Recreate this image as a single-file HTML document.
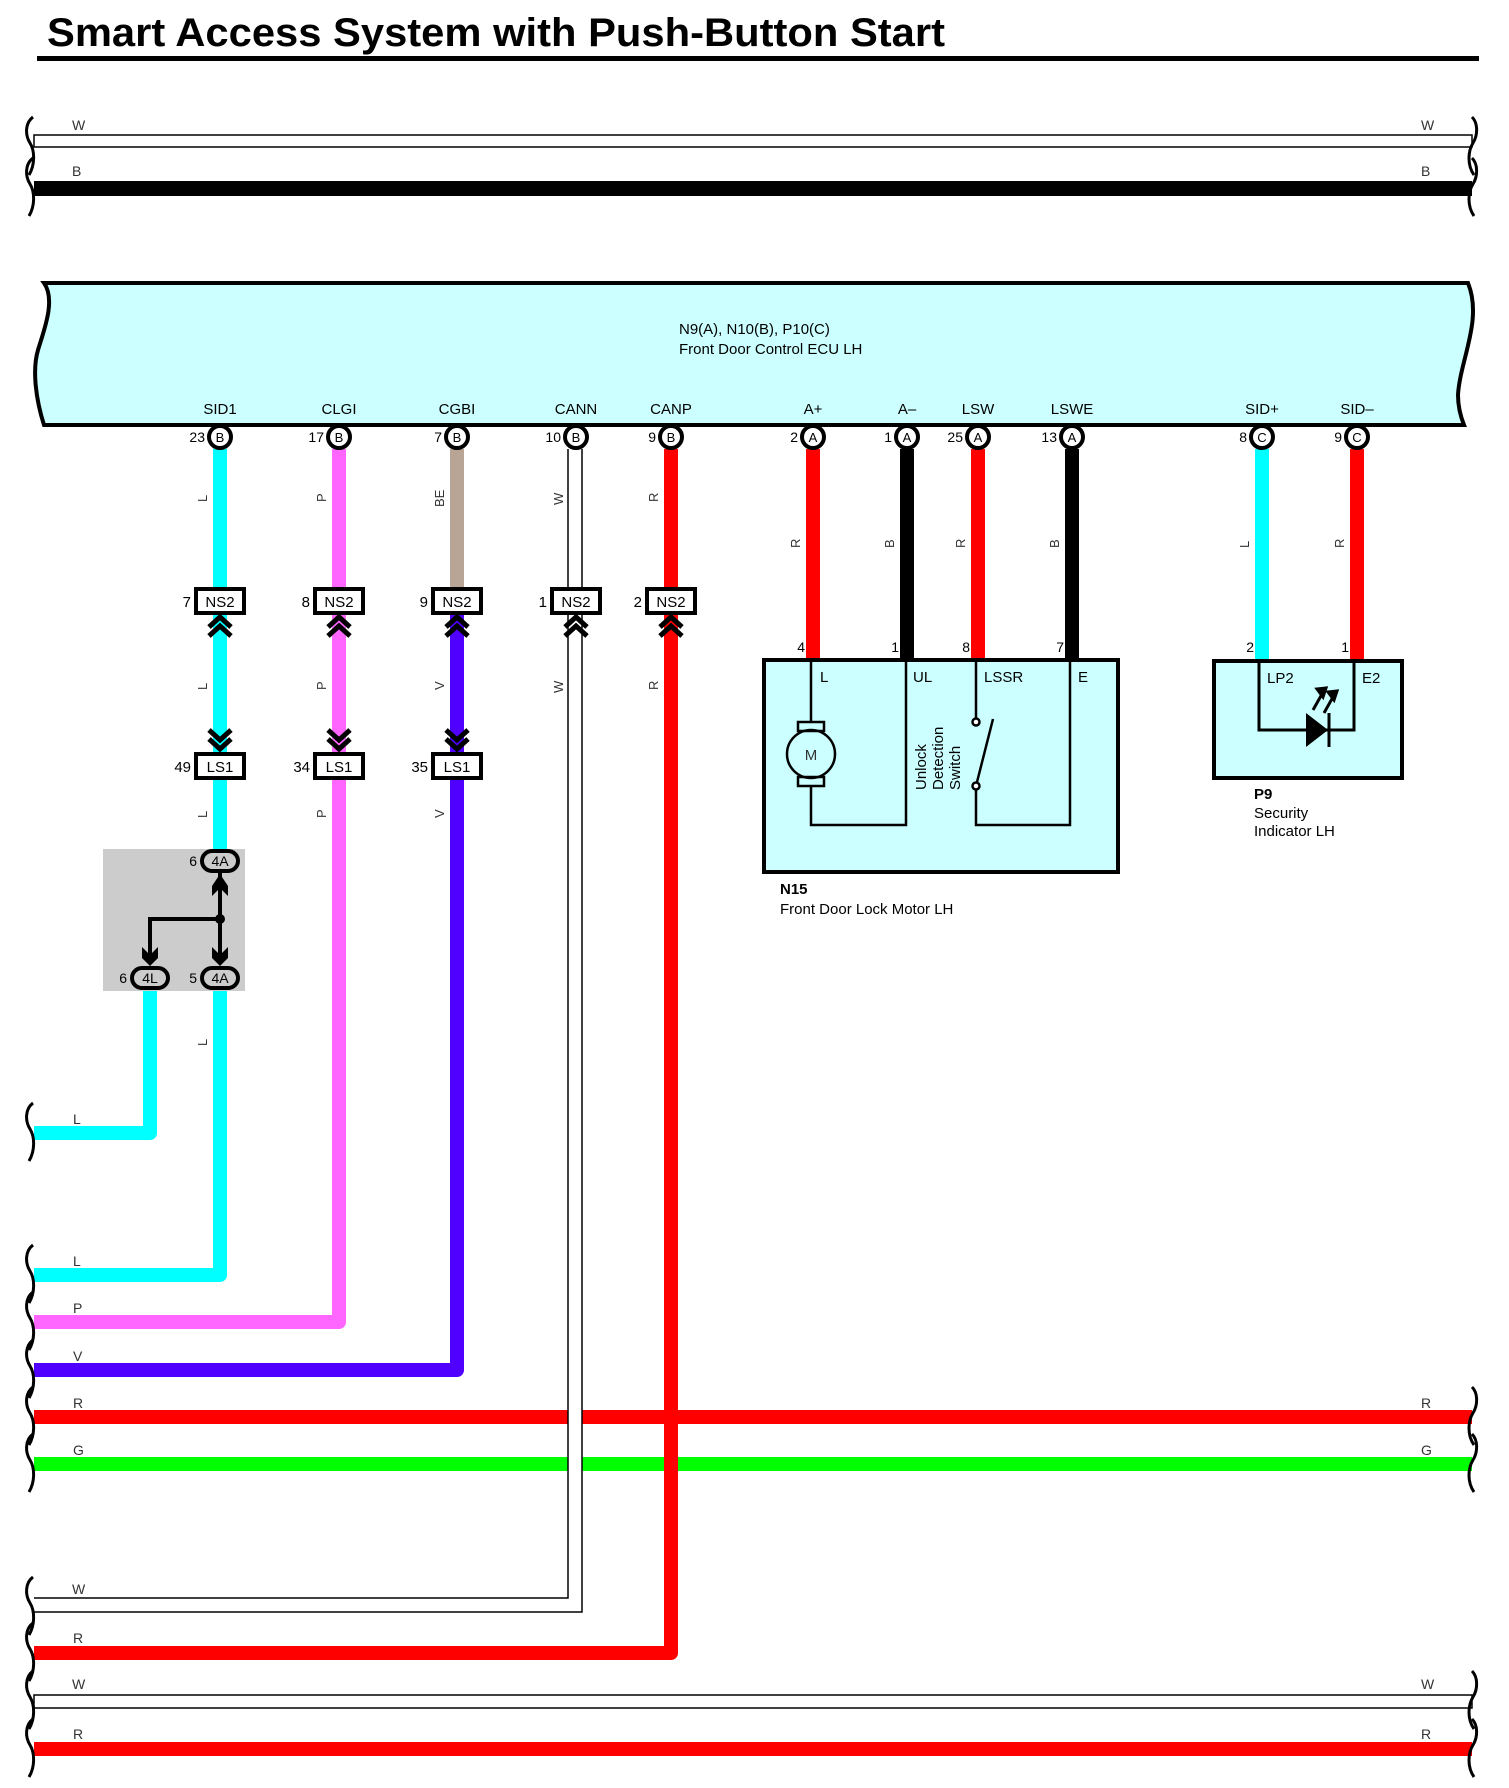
<!DOCTYPE html>
<html><head><meta charset="utf-8"><style>
html,body{margin:0;padding:0;background:#fff}
svg{display:block}
text{font-family:"Liberation Sans",Arial,sans-serif}
</style></head><body>
<svg width="1509" height="1788" viewBox="0 0 1509 1788" xmlns="http://www.w3.org/2000/svg">
<defs>
<path id="brL" d="M0 -30 C-8 -24 -8 -12 -3 -4 C2 4 2 18 -4 28" fill="none" stroke="#000" stroke-width="3"/>
<path id="brR" d="M0 -30 C6 -24 6 -12 1 -4 C-4 4 -5 18 2 28" fill="none" stroke="#000" stroke-width="3"/>
<g id="chU" fill="none" stroke="#000" stroke-width="5"><path d="M-11 13 L0 3 L11 13"/><path d="M-11 22 L0 12 L11 22"/></g>
<g id="chD" fill="none" stroke="#000" stroke-width="5"><path d="M-11 -22 L0 -12 L11 -22"/><path d="M-11 -13 L0 -3 L11 -13"/></g>
</defs>

<!-- title -->
<text x="47" y="46" font-size="40" font-weight="bold" textLength="898" lengthAdjust="spacingAndGlyphs">Smart Access System with Push-Button Start</text>
<rect x="37" y="56" width="1442" height="5" fill="#000"/>

<!-- top wires -->
<rect x="34" y="135" width="1438" height="12" fill="#fff" stroke="#000" stroke-width="1.5"/>
<rect x="34" y="181" width="1438" height="15" fill="#000"/>
<g font-size="14" fill="#333">
<text x="72" y="130">W</text><text x="1421" y="130">W</text>
<text x="72" y="176">B</text><text x="1421" y="176">B</text>
</g>
<use href="#brL" x="33" y="147"/><use href="#brL" x="33" y="188"/>
<use href="#brR" x="1472" y="147"/><use href="#brR" x="1472" y="188"/>

<!-- ECU -->
<path d="M44 283 L1468 283 C1483 320 1460 360 1458 395 C1458 410 1462 420 1464 425 L44 425 C36 400 32 370 38 350 C44 330 56 300 44 283 Z" fill="#ccffff" stroke="#000" stroke-width="4"/>
<text x="679" y="334" font-size="15">N9(A), N10(B), P10(C)</text>
<text x="679" y="354" font-size="15">Front Door Control ECU LH</text>
<g font-size="15" text-anchor="middle">
<text x="220" y="414">SID1</text><text x="339" y="414">CLGI</text><text x="457" y="414">CGBI</text>
<text x="576" y="414">CANN</text><text x="671" y="414">CANP</text><text x="813" y="414">A+</text>
<text x="907" y="414">A–</text><text x="978" y="414">LSW</text><text x="1072" y="414">LSWE</text>
<text x="1262" y="414">SID+</text><text x="1357" y="414">SID–</text>
</g>

<!-- horizontal lower wires -->
<g stroke-width="14" fill="none" stroke-linejoin="round">
<path d="M34 1417 H1472" stroke="#ff0000"/>
<path d="M34 1464 H1472" stroke="#00ff00"/>
<path d="M34 1749 H1472" stroke="#ff0000"/>
</g>
<rect x="34" y="1695" width="1438" height="13" fill="#fff" stroke="#000" stroke-width="1.5"/>

<!-- vertical wires -->
<g stroke-width="14" fill="none" stroke-linejoin="round">
<path d="M150 988 V1133 H34" stroke="#00ffff"/>
<path d="M220 449 V850 M220 988 V1275 H34" stroke="#00ffff"/>
<path d="M339 449 V1322 H34" stroke="#ff66ff"/>
<path d="M457 449 V590" stroke="#b8a596"/>
<path d="M457 612 V1370 H34" stroke="#5000ff"/>
<path d="M671 449 V1653 H34" stroke="#ff0000"/>
<path d="M813 449 V660" stroke="#ff0000"/>
<path d="M907 449 V660" stroke="#000"/>
<path d="M978 449 V660" stroke="#ff0000"/>
<path d="M1072 449 V660" stroke="#000"/>
<path d="M1262 449 V660" stroke="#00ffff"/>
<path d="M1357 449 V660" stroke="#ff0000"/>
</g>
<!-- CANN white wire -->
<path d="M575 449 V1605 H34" fill="none" stroke="#000" stroke-width="15.5"/>
<path d="M575 449 V1605 H34" fill="none" stroke="#fff" stroke-width="12.5"/>

<!-- braces lower -->
<g>
<use href="#brL" x="33" y="1133"/><use href="#brL" x="33" y="1275"/><use href="#brL" x="33" y="1322"/>
<use href="#brL" x="33" y="1370"/><use href="#brL" x="33" y="1417"/><use href="#brL" x="33" y="1464"/>
<use href="#brL" x="33" y="1607"/><use href="#brL" x="33" y="1653"/><use href="#brL" x="33" y="1701"/>
<use href="#brL" x="33" y="1749"/>
<use href="#brR" x="1472" y="1417"/><use href="#brR" x="1472" y="1464"/>
<use href="#brR" x="1472" y="1701"/><use href="#brR" x="1472" y="1749"/>
</g>
<g font-size="14" fill="#333">
<text x="73" y="1124">L</text><text x="73" y="1266">L</text><text x="73" y="1313">P</text>
<text x="73" y="1361">V</text><text x="73" y="1408">R</text><text x="73" y="1455">G</text>
<text x="72" y="1594">W</text><text x="73" y="1643">R</text><text x="72" y="1689">W</text>
<text x="73" y="1739">R</text>
<text x="1421" y="1408">R</text><text x="1421" y="1455">G</text>
<text x="1421" y="1689">W</text><text x="1421" y="1739">R</text>
</g>

<!-- wire labels rotated -->
<g font-size="13" fill="#333">
<text transform="translate(207,502) rotate(-90)">L</text>
<text transform="translate(326,502) rotate(-90)">P</text>
<text transform="translate(444,507) rotate(-90)">BE</text>
<text transform="translate(563,505) rotate(-90)">W</text>
<text transform="translate(658,502) rotate(-90)">R</text>
<text transform="translate(800,548) rotate(-90)">R</text>
<text transform="translate(894,548) rotate(-90)">B</text>
<text transform="translate(965,548) rotate(-90)">R</text>
<text transform="translate(1059,548) rotate(-90)">B</text>
<text transform="translate(1249,548) rotate(-90)">L</text>
<text transform="translate(1344,548) rotate(-90)">R</text>
<text transform="translate(207,690) rotate(-90)">L</text>
<text transform="translate(326,690) rotate(-90)">P</text>
<text transform="translate(444,690) rotate(-90)">V</text>
<text transform="translate(563,693) rotate(-90)">W</text>
<text transform="translate(658,690) rotate(-90)">R</text>
<text transform="translate(207,818) rotate(-90)">L</text>
<text transform="translate(326,818) rotate(-90)">P</text>
<text transform="translate(444,818) rotate(-90)">V</text>
<text transform="translate(207,1046) rotate(-90)">L</text>
</g>

<!-- ECU connectors -->
<g fill="#fff" stroke="#000" stroke-width="4">
<circle cx="220" cy="437" r="11"/><circle cx="339" cy="437" r="11"/><circle cx="457" cy="437" r="11"/>
<circle cx="576" cy="437" r="11"/><circle cx="671" cy="437" r="11"/><circle cx="813" cy="437" r="11"/>
<circle cx="907" cy="437" r="11"/><circle cx="978" cy="437" r="11"/><circle cx="1072" cy="437" r="11"/>
<circle cx="1262" cy="437" r="11"/><circle cx="1357" cy="437" r="11"/>
</g>
<g font-size="13" text-anchor="middle">
<text x="220" y="442">B</text><text x="339" y="442">B</text><text x="457" y="442">B</text>
<text x="576" y="442">B</text><text x="671" y="442">B</text><text x="813" y="442">A</text>
<text x="907" y="442">A</text><text x="978" y="442">A</text><text x="1072" y="442">A</text>
<text x="1262" y="442">C</text><text x="1357" y="442">C</text>
</g>
<g font-size="14" text-anchor="end">
<text x="205" y="442">23</text><text x="324" y="442">17</text><text x="442" y="442">7</text>
<text x="561" y="442">10</text><text x="656" y="442">9</text><text x="798" y="442">2</text>
<text x="892" y="442">1</text><text x="963" y="442">25</text><text x="1057" y="442">13</text>
<text x="1247" y="442">8</text><text x="1342" y="442">9</text>
</g>

<!-- NS2 boxes -->
<g fill="#fff" stroke="#000" stroke-width="4">
<rect x="196" y="589" width="48" height="24"/><rect x="315" y="589" width="48" height="24"/>
<rect x="433" y="589" width="48" height="24"/><rect x="552" y="589" width="48" height="24"/>
<rect x="647" y="589" width="48" height="24"/>
</g>
<g font-size="15" text-anchor="middle">
<text x="220" y="607">NS2</text><text x="339" y="607">NS2</text><text x="457" y="607">NS2</text>
<text x="576" y="607">NS2</text><text x="671" y="607">NS2</text>
</g>
<g font-size="15" text-anchor="end">
<text x="191" y="607">7</text><text x="310" y="607">8</text><text x="428" y="607">9</text>
<text x="547" y="607">1</text><text x="642" y="607">2</text>
</g>
<use href="#chU" x="220" y="614"/><use href="#chU" x="339" y="614"/><use href="#chU" x="457" y="614"/>
<use href="#chU" x="576" y="614"/><use href="#chU" x="671" y="614"/>

<!-- LS1 boxes -->
<use href="#chD" x="220" y="752"/><use href="#chD" x="339" y="752"/><use href="#chD" x="457" y="752"/>
<g fill="#fff" stroke="#000" stroke-width="4">
<rect x="196" y="754" width="48" height="24"/><rect x="315" y="754" width="48" height="24"/>
<rect x="433" y="754" width="48" height="24"/>
</g>
<g font-size="15" text-anchor="middle">
<text x="220" y="772">LS1</text><text x="339" y="772">LS1</text><text x="457" y="772">LS1</text>
</g>
<g font-size="15" text-anchor="end">
<text x="191" y="772">49</text><text x="310" y="772">34</text><text x="428" y="772">35</text>
</g>

<!-- gray junction box -->
<rect x="103" y="849" width="142" height="142" fill="#cccccc"/>
<g fill="none" stroke="#000" stroke-width="4">
<path d="M220 870 V963 M220 919 H150 V963"/>
</g>
<circle cx="220" cy="919" r="5" fill="#000"/>
<g fill="#000">
<path d="M212 886 L220 874 L228 886 L228 896 L220 888 L212 896 Z"/>
<path d="M142 947 L150 955 L158 947 L158 958 L150 966 L142 958 Z"/>
<path d="M212 947 L220 955 L228 947 L228 958 L220 966 L212 958 Z"/>
</g>
<g fill="#ccc" stroke="#000" stroke-width="4">
<rect x="202" y="851" width="36" height="20" rx="10"/>
<rect x="132" y="968" width="36" height="20" rx="10"/>
<rect x="202" y="968" width="36" height="20" rx="10"/>
</g>
<g font-size="14" text-anchor="middle">
<text x="220" y="866">4A</text><text x="150" y="983">4L</text><text x="220" y="983">4A</text>
</g>
<g font-size="14" text-anchor="end">
<text x="197" y="866">6</text><text x="127" y="983">6</text><text x="197" y="983">5</text>
</g>

<!-- N15 -->
<rect x="764" y="660" width="354" height="212" fill="#ccffff" stroke="#000" stroke-width="4"/>
<g font-size="14" text-anchor="end">
<text x="805" y="652">4</text><text x="899" y="652">1</text><text x="970" y="652">8</text><text x="1064" y="652">7</text>
</g>
<g fill="none" stroke="#000" stroke-width="2.5">
<path d="M811 660 V722 M811 785 V825 H906 V660"/>
<path d="M976 660 V718 M976 790 V825 H1070 V660"/>
<path d="M976 786 L993 719"/>
<circle cx="811" cy="754" r="24"/>
<rect x="798" y="722" width="26" height="9"/>
<rect x="798" y="777" width="26" height="9"/>
</g>
<circle cx="976" cy="722" r="3.5" fill="#fff" stroke="#000" stroke-width="2.5"/>
<circle cx="976" cy="786" r="3.5" fill="#fff" stroke="#000" stroke-width="2.5"/>
<text x="811" y="760" font-size="15" text-anchor="middle" fill="#333">M</text>
<g font-size="15">
<text x="820" y="682">L</text><text x="913" y="682">UL</text><text x="984" y="682">LSSR</text><text x="1078" y="682">E</text>
</g>
<g font-size="15">
<text transform="translate(926,790) rotate(-90)">Unlock</text>
<text transform="translate(943,790) rotate(-90)">Detection</text>
<text transform="translate(960,790) rotate(-90)">Switch</text>
</g>
<text x="780" y="894" font-size="15" font-weight="bold">N15</text>
<text x="780" y="914" font-size="15">Front Door Lock Motor LH</text>

<!-- P9 -->
<rect x="1214" y="661" width="188" height="117" fill="#ccffff" stroke="#000" stroke-width="4"/>
<g font-size="14" text-anchor="end">
<text x="1254" y="652">2</text><text x="1349" y="652">1</text>
</g>
<path d="M1259 661 V730 H1354 V661" fill="none" stroke="#000" stroke-width="3"/>
<path d="M1306 713 L1328 730 L1306 747 Z" fill="#000"/>
<path d="M1329 713 V747" stroke="#000" stroke-width="3"/>
<g stroke="#000" stroke-width="3" fill="#000">
<path d="M1313 710 L1322 694"/><path d="M1317 689 L1326 688 L1323 697 Z"/>
<path d="M1324 713 L1333 697"/><path d="M1328 692 L1337 691 L1334 700 Z"/>
</g>
<g font-size="15">
<text x="1267" y="683">LP2</text><text x="1362" y="683">E2</text>
</g>
<text x="1254" y="799" font-size="15" font-weight="bold">P9</text>
<text x="1254" y="818" font-size="15">Security</text>
<text x="1254" y="836" font-size="15">Indicator LH</text>
</svg>
</body></html>
